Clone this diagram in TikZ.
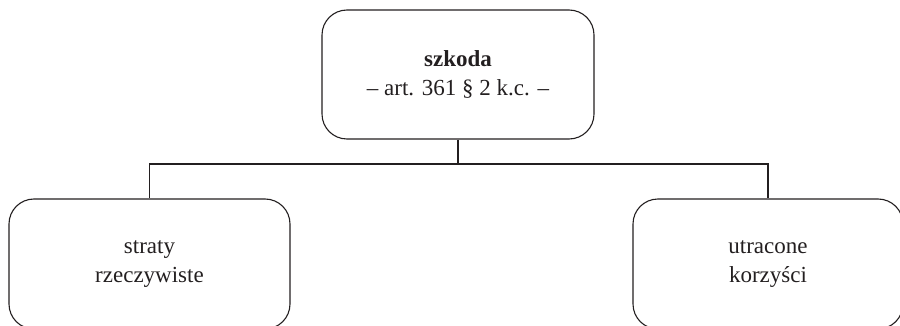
\documentclass[tikz,border=0pt]{standalone}
\usepackage{fontspec}
\setmainfont{Liberation Serif}
\definecolor{ink}{RGB}{35,31,32}
\begin{document}
\begin{tikzpicture}[x=1pt,y=-1pt,
  box/.style={draw=ink, line width=1.1pt, rounded corners=25pt, inner sep=0pt,
    align=center, text=ink, font=\fontsize{23}{29.5}\selectfont},
  link/.style={draw=ink, line width=1.1pt}]
\useasboundingbox (0,0) rectangle (900,326);
\clip (0,0) rectangle (900,326);
\node[box, minimum width=272pt, minimum height=129pt] (top) at (458,74.5)
  {\textbf{szkoda}\\– art. 361 § 2 k.c. –};
\node[box, minimum width=281pt, minimum height=130pt] (left) at (149.5,264)
  {straty\\rzeczywiste};
\node[box, minimum width=270pt, minimum height=130pt] (right) at (768,264)
  {utracone\\korzyści};
\coordinate (bus) at (458,164);
\draw[link] (top.south) -- (bus);
\draw[link] (left.north) |- (bus) -| (right.north);
\end{tikzpicture}
\end{document}
